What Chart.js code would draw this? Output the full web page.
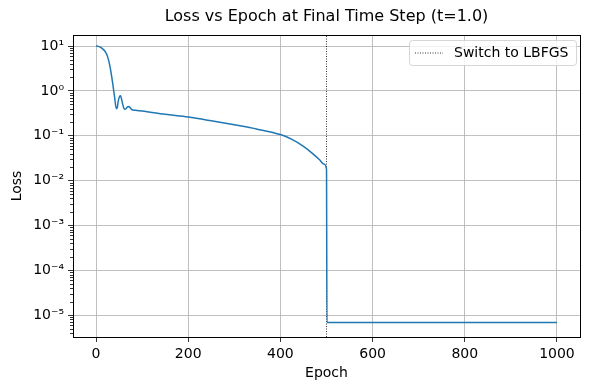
<!DOCTYPE html>
<html>
<head>
  <meta charset="UTF-8">
  <script src="https://cdn.jsdelivr.net/npm/chart.js"></script>
  <title>Loss vs Epoch</title>
  <style>
    body { margin: 0; background: #fff; }
    #wrap { width: 590px; height: 390px; }
  </style>
</head>
<body>
  <div id="wrap"><canvas id="myChart" width="590" height="390"></canvas></div>

<script>
  // valores
  var epochs = [0, 5, 10, 15, 20, 25, 30, 33, 36, 40, 44, 46, 48, 51, 53, 55, 57, 60, 62, 65, 68, 71, 74, 78, 85,
    100, 150, 200, 250, 300, 350, 400, 425, 450, 470, 485, 495, 500, 501, 1000];
  var losses = [10, 9.8, 9.3, 8.5, 7.5, 5.8, 3.6, 2.4, 1.5, 0.75, 0.4, 0.42, 0.58, 0.75, 0.78, 0.68, 0.55, 0.42, 0.39, 0.4, 0.44, 0.45, 0.42, 0.38, 0.37,
    0.355, 0.30, 0.26, 0.215, 0.175, 0.14, 0.106, 0.083, 0.058, 0.04, 0.029, 0.023, 0.018, 6.8e-6, 6.8e-6];
  var switchEpoch = 500;
  var xTicks = [0, 200, 400, 600, 800, 1000];
  var yTicks = [1e-5, 1e-4, 1e-3, 1e-2, 1e-1, 1, 10];
  var yMin = 3.25e-6;
  var yMax = 17.6;

  var sup = { '-': '\u207b', '0': '\u2070', '1': '\u00b9', '2': '\u00b2', '3': '\u00b3', '4': '\u2074', '5': '\u2075' };
  function expLabel(v) {
    var e = Math.round(Math.log10(v)).toString();
    var s = '';
    for (var i = 0; i < e.length; i++) s += sup[e[i]];
    return '10' + s;
  }

  var lossData = [];
  for (var i = 0; i < epochs.length; i++) {
    lossData.push({ x: epochs[i], y: losses[i] });
  }

  var FONT = 'DejaVu Sans';
  var TITLE = 'Loss vs Epoch at Final Time Step (t=1.0)';
  Chart.defaults.font.family = FONT;
  Chart.defaults.color = '#000';

  // titulo, moldura, ticks menores e legenda estilo matplotlib
  var extras = {
    id: 'extras',
    afterDatasetsDraw: function (chart) {
      var ctx = chart.ctx;
      var a = chart.chartArea;
      var ys = chart.scales.y;
      ctx.save();
      // ticks menores no eixo log
      ctx.strokeStyle = '#000';
      ctx.lineWidth = 0.8;
      for (var p = -6; p <= 1; p++) {
        for (var m = 2; m <= 9; m++) {
          var v = m * Math.pow(10, p);
          if (v < yMin || v > yMax) continue;
          var py = Math.round(ys.getPixelForValue(v)) + 0.5;
          ctx.beginPath();
          ctx.moveTo(a.left - 3, py);
          ctx.lineTo(a.left, py);
          ctx.stroke();
        }
      }
      // moldura
      ctx.lineWidth = 1;
      ctx.strokeRect(Math.round(a.left) + 0.5, Math.round(a.top) + 0.5, Math.round(a.right - a.left), Math.round(a.bottom - a.top));

      // titulo centrado na area do grafico
      ctx.fillStyle = '#000';
      ctx.font = '16px ' + FONT;
      ctx.textAlign = 'center';
      ctx.textBaseline = 'middle';
      ctx.fillText(TITLE, (a.left + a.right) / 2, 17);

      // legenda
      var bx = 409, by = 40, bw = 167, bh = 25, r = 3;
      ctx.fillStyle = 'rgba(255,255,255,0.8)';
      ctx.strokeStyle = 'rgba(204,204,204,0.8)';
      ctx.lineWidth = 1;
      ctx.beginPath();
      ctx.roundRect(bx + 0.5, by + 0.5, bw, bh, r);
      ctx.fill();
      ctx.stroke();
      ctx.strokeStyle = '#000';
      ctx.lineWidth = 0.8;
      ctx.setLineDash([1, 1.5]);
      ctx.beginPath();
      ctx.moveTo(415, by + 13);
      ctx.lineTo(443, by + 13);
      ctx.stroke();
      ctx.setLineDash([]);
      ctx.fillStyle = '#000';
      ctx.font = '14px ' + FONT;
      ctx.textAlign = 'left';
      ctx.fillText(chart.data.datasets[1].label, 454, by + 13);
      ctx.restore();
    }
  };

  const config = {
    type: 'line',
    data: {
      datasets: [{
        label: 'Loss',
        data: lossData,
        borderColor: '#1f77b4',
        borderWidth: 1.5,
        pointRadius: 0,
        cubicInterpolationMode: 'monotone',
        fill: false
      }, {
        label: 'Switch to LBFGS',
        data: [{ x: switchEpoch, y: yMin }, { x: switchEpoch, y: yMax }],
        borderColor: '#000',
        borderWidth: 0.8,
        borderDash: [1, 1.5],
        pointRadius: 0,
        fill: false
      }]
    },
    options: {
      responsive: false,
      animation: false,
      layout: { padding: { left: 0, right: 10, top: 35, bottom: 0 } },
      plugins: {
        legend: { display: false },
        tooltip: { enabled: false },
        title: { display: false }
      },
      scales: {
        x: {
          type: 'linear',
          min: -50,
          max: 1050,
          afterBuildTicks: function (scale) {
            scale.ticks = xTicks.map(function (v) { return { value: v }; });
          },
          afterFit: function (scale) { scale.height = 53; },
          ticks: {
            font: { size: 14 }, color: '#000', padding: 4, maxRotation: 0,
            callback: function (v) { return String(v); }
          },
          grid: { color: '#b0b0b0', lineWidth: 0.8, tickColor: '#000', tickLength: 5 },
          border: { display: false },
          title: { display: true, text: 'Epoch', font: { size: 14 }, color: '#000', padding: { top: 0, bottom: 8 } }
        },
        y: {
          type: 'logarithmic',
          min: yMin,
          max: yMax,
          afterBuildTicks: function (scale) {
            scale.ticks = yTicks.map(function (v) { return { value: v, major: true }; });
          },
          afterFit: function (scale) { scale.width = 73; },
          ticks: {
            font: { size: 14 },
            color: '#000',
            padding: 4,
            callback: function (v) { return expLabel(v); }
          },
          grid: { color: '#b0b0b0', lineWidth: 0.8, tickColor: '#000', tickLength: 5 },
          border: { display: false },
          title: { display: true, text: 'Loss', font: { size: 14 }, color: '#000', padding: { top: 9, bottom: 0 } }
        }
      }
    },
    plugins: [extras]
  };

  const myChart = new Chart(document.getElementById('myChart'), config);
</script>
</body>
</html>
